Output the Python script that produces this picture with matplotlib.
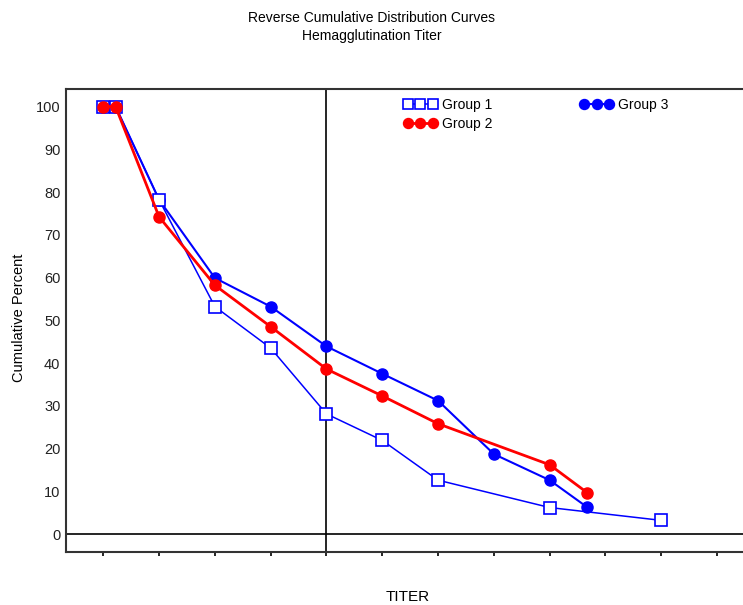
import matplotlib
matplotlib.use("Agg")
import matplotlib.pyplot as plt

plt.rcParams['font.family'] = ['Liberation Sans', 'DejaVu Sans']

# Data (x in titer-step units)
g1_x = [0, 0.22, 1, 2, 3, 4, 5, 6, 8, 10]
g1_y = [100, 100, 78.2, 53.2, 43.5, 28.1, 21.9, 12.6, 6.2, 3.2]
g2_x = [0, 0.22, 1, 2, 3, 4, 5, 6, 8, 8.67]
g2_y = [100, 100, 74.2, 58.2, 48.5, 38.6, 32.3, 25.8, 16.2, 9.7]
g3_x = [0, 0.22, 1, 2, 3, 4, 5, 6, 7, 8, 8.67]
g3_y = [100, 100, 78.2, 59.9, 53.2, 43.9, 37.5, 31.2, 18.7, 12.6, 6.3]
y_ticks = [0, 10, 20, 30, 40, 50, 60, 70, 80, 90, 100]
x_ticks = list(range(0, 13))

W, H = 743, 605
fig = plt.figure(figsize=(W / 100, H / 100), dpi=100)
ax = fig.add_axes([66 / W, 53 / H, 0.9514, 463 / H])

ax.axhline(0, color='black', lw=1.2, zorder=1)
ax.axvline(4, color='black', lw=1.2, zorder=1)

h1, = ax.plot(g1_x, g1_y, color='#0000ff', lw=1.1, marker='s', ms=8,
              mfc='white', mec='#0000ff', mew=1.2, label='Group 1', zorder=3)
h2, = ax.plot(g2_x, g2_y, color='#ff0000', lw=2.0, marker='o', ms=8,
              mfc='#ff0000', mec='#ff0000', label='Group 2', zorder=4)
h3, = ax.plot(g3_x, g3_y, color='#0000ff', lw=1.5, marker='o', ms=8,
              mfc='#0000ff', mec='#0000ff', label='Group 3', zorder=2)

ax.set_xlim(-0.668, 12.0)
ax.set_ylim(-4.2, 104.1)
ax.set_xticks(x_ticks)
ax.set_xticklabels([])
ax.set_yticks(y_ticks)
ax.set_yticklabels([str(v) for v in y_ticks], fontsize=10.5, color='#222222')
ax.tick_params(axis='x', direction='out', length=3, width=1.2)
ax.tick_params(axis='y', length=0, pad=4)
for s in ax.spines.values():
    s.set_linewidth(1.5)
    s.set_color('#333333')

fig.text(408 / W, 1 - 597 / H, 'TITER', ha='center', va='center', fontsize=11)
fig.text(19 / W, 1 - 318 / H, 'Cumulative Percent', ha='center', va='center',
         rotation=90, fontsize=10.5)

fig.text(0.5, 1 - 27 / H, 'Reverse Cumulative Distribution Curves\nHemagglutination Titer',
         ha='center', va='center', fontsize=10, linespacing=1.35)

leg = ax.legend(handles=[h1, h2, h3], ncol=2, numpoints=3, frameon=False,
                loc='upper left', bbox_to_anchor=(0.46, 1.008), fontsize=10,
                handlelength=2.4, columnspacing=6.3, handletextpad=0.35,
                labelspacing=0.35, markerscale=0.9)

fig.savefig('out.png', dpi=100)
